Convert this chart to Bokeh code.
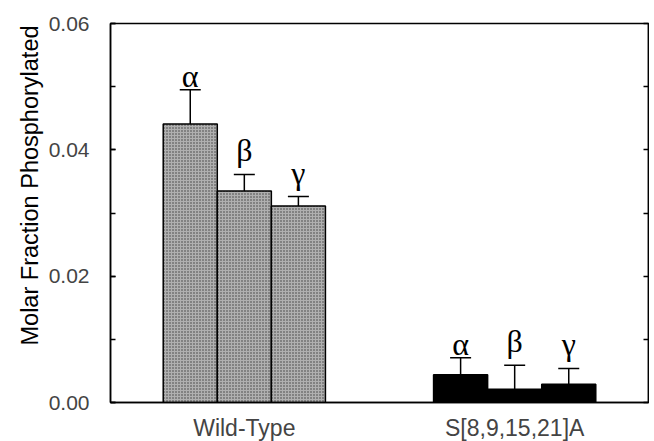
from bokeh.plotting import figure
from bokeh.models import (ColumnDataSource, Range1d, LinearAxis, FixedTicker,
                          Whisker, TeeHead, SingleIntervalTicker, CustomJSTickFormatter, Title)
from bokeh.core.properties import value
from bokeh.embed import file_html
from bokeh.resources import INLINE

# ---- data ----
groups = ["Wild-Type", "S[8,9,15,21]A"]
subunits = ["α", "β", "γ"]
wt_values = [0.0441, 0.0335, 0.0311]
wt_errors = [0.0054, 0.0026, 0.0015]
mut_values = [0.0044, 0.0021, 0.0029]
mut_errors = [0.0027, 0.0038, 0.0025]
y_label = "Molar Fraction Phosphorylated"

# ---- layout helpers (styling, not data) ----
group_pos = [1, 2]
offsets = [-0.2, 0.0, 0.2]
bar_w = 0.2
label_px = {"α": -14, "β": -24, "γ": -24}

def make_src(center, vals, errs, lower_shown):
    xs = [center + o for o in offsets]
    upper = [v + e for v, e in zip(vals, errs)]
    lower = [v - e if lower_shown else v for v, e in zip(vals, errs)]
    return ColumnDataSource(dict(x=xs, top=vals, upper=upper, lower=lower,
                                 lab=subunits, yoff=[label_px[s] for s in subunits]))

wt = make_src(group_pos[0], wt_values, wt_errors, True)
mut = make_src(group_pos[1], mut_values, mut_errors, False)

p = figure(frame_width=538, frame_height=379, output_backend="svg", toolbar_location=None,
           x_range=Range1d(0.505, 2.495), y_range=Range1d(0, 0.06),
           min_border_left=110, min_border_right=1, min_border_top=23,
           min_border_bottom=39)
p.xgrid.visible = False
p.ygrid.visible = False
p.outline_line_color = "black"
p.outline_line_width = 1.5
p.background_fill_color = "white"
p.border_fill_color = "white"

# bars
p.vbar(x="x", top="top", bottom=0, width=bar_w, source=wt,
       fill_color="#b0b0b0", line_color="black", line_width=1.5,
       hatch_pattern=".", hatch_color="#3a3a3a", hatch_scale=3, hatch_weight=1)
p.vbar(x="x", top="top", bottom=0, width=bar_w, source=mut,
       fill_color="black", line_color="black", line_width=1.5)

# error bars
for src, lower_head in ((wt, True), (mut, False)):
    w = Whisker(base="x", upper="upper", lower="lower", source=src,
                line_color="black", line_width=1.5,
                upper_head=TeeHead(size=21, line_color="black", line_width=1.5),
                lower_head=TeeHead(size=21, line_color="black", line_width=1.5) if lower_head else None)
    p.add_layout(w)

# greek labels
for src in (wt, mut):
    p.text(x="x", y="upper", text="lab", y_offset="yoff", source=src,
           text_align="center", text_baseline="alphabetic",
           text_font=value("Liberation Serif"), text_font_size="32px",
           text_color="black")

# y axis (left)
ya = p.yaxis[0]
ya.ticker = SingleIntervalTicker(interval=0.02, num_minor_ticks=2)
ya.formatter = CustomJSTickFormatter(code="return tick.toFixed(2);")
ya.major_label_text_font = "Liberation Sans"
ya.major_label_text_font_size = "21px"
ya.major_label_standoff = 21
ya.major_tick_in = 5
ya.major_tick_out = 0
ya.minor_tick_in = 5
ya.minor_tick_out = 0
ya.axis_line_width = 1.5
ya.major_tick_line_width = 1.5
ya.minor_tick_line_width = 1.5

# y label as a side title (starts above the frame bottom like the reference)
p.add_layout(Title(text=y_label, align="left", offset=57, standoff=6,
                   text_font="Liberation Sans", text_font_size="23.5px",
                   text_font_style="normal", text_color="black"), "left")

# right axis (ticks only)
ra = LinearAxis(ticker=SingleIntervalTicker(interval=0.01, num_minor_ticks=0),
                formatter=CustomJSTickFormatter(code="return '';"),
                major_tick_in=5, major_tick_out=0, minor_tick_in=0, minor_tick_out=0,
                minor_tick_line_color=None, axis_line_width=1.5,
                major_tick_line_width=1.5, major_label_standoff=0)
p.add_layout(ra, "right")

# x axis
xa = p.xaxis[0]
xa.ticker = FixedTicker(ticks=group_pos)
xa.major_label_overrides = {g: n for g, n in zip(group_pos, groups)}
xa.major_label_text_font = "Liberation Sans"
xa.major_label_text_font_size = "23px"
xa.major_label_standoff = 12
xa.major_tick_in = 0
xa.major_tick_out = 0
xa.minor_tick_in = 0
xa.minor_tick_out = 0
xa.major_tick_line_color = None
xa.minor_tick_line_color = None
xa.axis_line_width = 1.5

open("out.html", "w").write(file_html(p, INLINE))
